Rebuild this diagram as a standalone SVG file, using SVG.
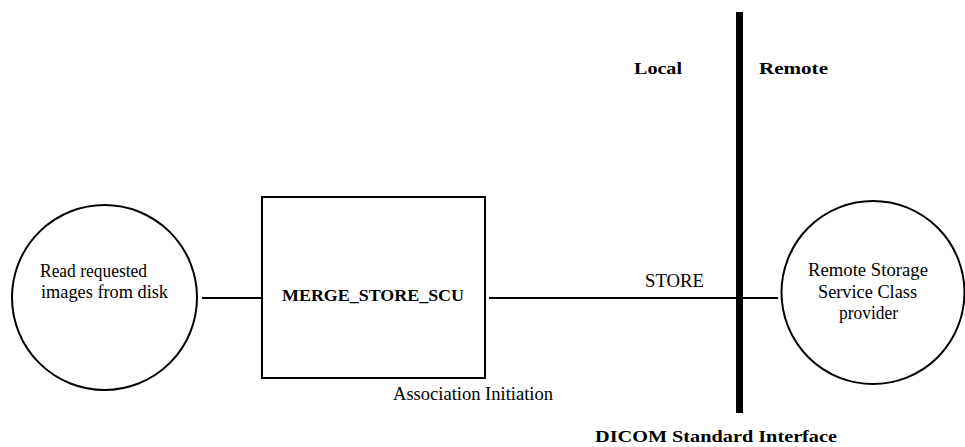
<svg xmlns="http://www.w3.org/2000/svg" width="965" height="447" viewBox="0 0 965 447">
<style>
.shape{fill:#fff;stroke:#000;stroke-width:2}
.ln{stroke:#000;stroke-width:2;fill:none}
.t{font-family:'Liberation Serif','DejaVu Serif','Times New Roman',serif;font-size:18px;fill:#000}
.b{font-family:'Liberation Serif','DejaVu Serif','Times New Roman',serif;font-size:17px;font-weight:bold;fill:#000}
</style>
<rect width="965" height="447" fill="#fff"/>
<g id="connectors">
<line class="ln" x1="202" y1="298" x2="261" y2="298"/>
<line class="ln" x1="489" y1="298" x2="778" y2="298"/>
<line x1="739.5" y1="12" x2="739.5" y2="413" stroke="#000" stroke-width="7"/>
<text class="t" x="645" y="287" textLength="59" lengthAdjust="spacingAndGlyphs">STORE</text>
<text class="t" x="393" y="400" textLength="160" lengthAdjust="spacingAndGlyphs">Association Initiation</text>
</g>
<g id="read-disk">
<circle class="shape" cx="104.5" cy="297.5" r="92.5"/>
<text class="t" x="40" y="277" textLength="107" lengthAdjust="spacingAndGlyphs">Read requested</text>
<text class="t" x="41" y="298" textLength="127" lengthAdjust="spacingAndGlyphs">images from disk</text>
</g>
<g id="merge-store-scu">
<rect class="shape" x="262" y="197" width="223" height="181"/>
<text class="b" x="282" y="301" textLength="182" lengthAdjust="spacingAndGlyphs">MERGE_STORE_SCU</text>
</g>
<g id="remote-scp">
<circle class="shape" cx="873" cy="292.5" r="91.5"/>
<text class="t" x="808" y="276" textLength="120" lengthAdjust="spacingAndGlyphs">Remote Storage</text>
<text class="t" x="818" y="298" textLength="99" lengthAdjust="spacingAndGlyphs">Service Class</text>
<text class="t" x="839" y="319" textLength="59" lengthAdjust="spacingAndGlyphs">provider</text>
</g>
<g id="labels">
<text class="b" x="634" y="74" textLength="48" lengthAdjust="spacingAndGlyphs">Local</text>
<text class="b" x="759" y="74" textLength="69" lengthAdjust="spacingAndGlyphs">Remote</text>
<text class="b" x="595" y="442" textLength="242" lengthAdjust="spacingAndGlyphs">DICOM Standard Interface</text>
</g>
</svg>
